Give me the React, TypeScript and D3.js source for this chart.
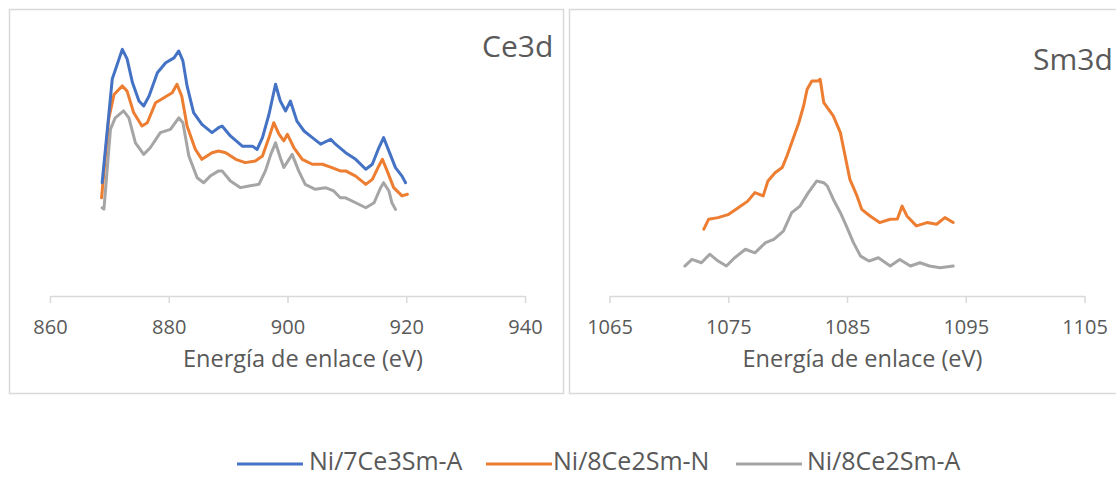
import React from "react";
import * as d3 from "d3";

// ---------- Data ----------
const seriesNames = ["Ni/7Ce3Sm-A", "Ni/8Ce2Sm-N", "Ni/8Ce2Sm-A"];
const seriesColors = ["#4472C4", "#ED7D31", "#A5A5A5"];

const ceTicks = [860, 880, 900, 920, 940];
const smTicks = [1065, 1075, 1085, 1095, 1105];

// Ce3d – Ni/7Ce3Sm-A
const ceAE = [868.7, 870.4, 872.1, 872.9, 873.8, 874.9, 875.7, 876.6, 878.0, 879.4, 880.8, 881.6, 882.3, 883.0, 884.1, 885.5, 887.2, 888.3, 888.9, 890.3, 892.3, 894.0, 894.8, 895.7, 896.8, 897.9, 898.7, 899.6, 900.4, 901.5, 902.7, 904.1, 905.5, 907.2, 908.0, 909.7, 911.4, 913.1, 914.2, 915.3, 916.1, 917.0, 918.1, 919.2, 919.8];
const ceAI = [41.2, 78.9, 89.7, 86.2, 77.6, 70.9, 69.1, 72.7, 81.2, 84.8, 86.6, 89.1, 85.5, 76.4, 66.7, 62.4, 59.4, 61.2, 61.8, 58.2, 54.5, 54.5, 53.3, 57.6, 66.1, 77.0, 70.9, 67.3, 70.9, 63.6, 60.0, 57.6, 55.2, 57.0, 55.2, 52.1, 49.7, 46.1, 47.9, 53.9, 57.6, 52.7, 46.7, 43.6, 41.2];

// Ce3d – Ni/8Ce2Sm-N
const ceNE = [868.6, 869.8, 870.7, 872.1, 872.9, 874.0, 875.4, 876.3, 877.7, 879.1, 880.5, 881.3, 882.1, 883.0, 884.4, 885.5, 887.2, 888.3, 889.5, 891.2, 892.8, 894.5, 895.7, 896.8, 897.6, 898.5, 899.3, 899.9, 901.0, 902.4, 904.1, 905.8, 907.4, 908.8, 909.7, 911.4, 913.1, 914.2, 915.3, 915.9, 916.7, 917.8, 919.2, 920.1];
const ceNI = [35.7, 64.4, 73.3, 76.4, 74.5, 66.7, 61.8, 63.0, 70.3, 72.1, 73.9, 77.0, 72.7, 61.8, 53.3, 49.7, 52.1, 52.7, 52.1, 49.7, 48.5, 49.1, 50.9, 57.6, 63.0, 58.8, 56.4, 58.8, 53.9, 49.7, 47.9, 47.9, 46.7, 45.5, 45.5, 43.6, 40.6, 42.4, 47.3, 49.7, 45.5, 39.4, 36.4, 37.0];

// Ce3d – Ni/8Ce2Sm-A
const ceGE = [868.7, 869.0, 870.1, 870.9, 872.3, 873.2, 874.3, 875.7, 876.8, 878.5, 880.2, 881.6, 882.3, 883.3, 884.7, 885.8, 886.9, 888.3, 888.9, 890.3, 892.0, 893.4, 895.1, 896.2, 897.1, 897.9, 898.7, 899.3, 900.7, 901.8, 902.9, 904.6, 906.3, 907.7, 908.8, 909.7, 911.4, 913.1, 914.5, 915.6, 916.1, 917.0, 917.5, 918.1];
const ceGI = [32.1, 31.6, 60.7, 64.8, 67.3, 64.8, 55.7, 51.5, 53.9, 59.4, 60.6, 64.8, 63.0, 50.9, 43.0, 41.2, 43.6, 45.5, 45.5, 41.8, 39.4, 40.0, 40.6, 45.5, 51.5, 55.7, 50.3, 46.7, 51.5, 45.5, 40.6, 38.8, 39.4, 38.2, 35.7, 35.7, 33.9, 32.1, 33.9, 39.4, 41.2, 38.2, 33.9, 31.5];

// Sm3d – Ni/8Ce2Sm-N
const smNE = [1072.9, 1073.3, 1074.1, 1075.0, 1075.8, 1076.6, 1077.2, 1077.9, 1078.3, 1078.9, 1079.5, 1079.9, 1080.3, 1080.9, 1081.3, 1081.6, 1082.0, 1082.5, 1082.7, 1083.0, 1083.8, 1084.4, 1084.8, 1085.2, 1085.8, 1086.2, 1086.9, 1087.7, 1088.6, 1089.2, 1089.6, 1090.0, 1090.8, 1091.7, 1092.5, 1093.2, 1093.9];
const smNI = [24.3, 27.9, 28.5, 29.7, 32.1, 34.5, 37.6, 36.4, 41.8, 44.8, 46.7, 50.9, 55.7, 63.0, 69.1, 75.2, 78.2, 78.2, 78.8, 70.3, 65.5, 59.4, 50.9, 42.4, 36.4, 31.5, 29.1, 26.7, 27.9, 28.0, 32.7, 29.1, 25.5, 26.7, 26.1, 28.5, 26.7];

// Sm3d – Ni/8Ce2Sm-A
const smGE = [1071.3, 1071.9, 1072.7, 1073.4, 1074.1, 1074.8, 1075.5, 1076.4, 1077.2, 1078.1, 1078.8, 1079.6, 1080.3, 1081.0, 1081.7, 1082.4, 1083.0, 1083.3, 1083.8, 1084.4, 1084.9, 1085.5, 1086.1, 1086.8, 1087.6, 1088.6, 1089.4, 1090.3, 1091.1, 1091.9, 1092.8, 1093.9];
const smGI = [10.9, 13.3, 12.1, 15.2, 12.7, 10.9, 13.9, 17.0, 15.7, 19.4, 20.6, 23.6, 30.3, 32.7, 37.6, 41.8, 41.2, 40.0, 35.2, 30.3, 25.5, 19.4, 14.5, 12.7, 13.9, 10.9, 13.3, 10.9, 12.1, 10.9, 10.3, 10.9];

const yDomain = [0, 100];

const TEXT = "#595959";
const GRID = "#D9D9D9";
const FONT = "'Open Sans', 'DejaVu Sans', sans-serif";

type Series = { e: number[]; i: number[]; color: string };

function Panel(props: {
  x0: number;
  x1: number;
  domain: [number, number];
  ticks: number[];
  series: Series[];
  title: string;
  titleX: number;
  titleY: number;
}) {
  const { x0, x1, domain, ticks, series, title, titleX, titleY } = props;
  const axisY = 296;
  const xs = d3.scaleLinear().domain(domain).range([x0, x1]);
  const ys = d3.scaleLinear().domain(yDomain).range([axisY, 21]);
  const line = d3
    .line<[number, number]>()
    .x((d) => xs(d[0]))
    .y((d) => ys(d[1]));
  return (
    <g>
      <line x1={x0} x2={x1} y1={axisY + 0.5} y2={axisY + 0.5} stroke={GRID} strokeWidth={1.5} />
      {ticks.map((t) => (
        <g key={t}>
          <line x1={xs(t)} x2={xs(t)} y1={axisY} y2={axisY + 7} stroke={GRID} strokeWidth={1.5} />
          <text x={xs(t)} y={329} textAnchor="middle" dominantBaseline="middle" fontSize={20} fill={TEXT} fontFamily={FONT}>
            {t}
          </text>
        </g>
      ))}
      <text x={(x0 + x1) / 2 + 15} y={361} textAnchor="middle" dominantBaseline="middle" fontSize={23.5} fill={TEXT} fontFamily={FONT}>
        Energía de enlace (eV)
      </text>
      <text x={titleX} y={titleY} dominantBaseline="middle" fontSize={30} fill={TEXT} fontFamily={FONT}>
        {title}
      </text>
      {series.map((s, k) => (
        <path
          key={k}
          d={line(s.e.map((e, j) => [e, s.i[j]] as [number, number])) || ""}
          fill="none"
          stroke={s.color}
          strokeWidth={3}
          strokeLinejoin="round"
          strokeLinecap="round"
        />
      ))}
    </g>
  );
}

export default function App() {
  const ceSeries: Series[] = [
    { e: ceGE, i: ceGI, color: seriesColors[2] },
    { e: ceNE, i: ceNI, color: seriesColors[1] },
    { e: ceAE, i: ceAI, color: seriesColors[0] },
  ];
  const smSeries: Series[] = [
    { e: smGE, i: smGI, color: seriesColors[2] },
    { e: smNE, i: smNI, color: seriesColors[1] },
  ];
  const legendItems = [
    { lx: 237, tx: 309 },
    { lx: 486, tx: 553 },
    { lx: 736, tx: 807 },
  ];
  return (
    <div style={{ position: "absolute", left: 0, top: 0 }}>
      <svg width={1116} height={477} style={{ display: "block", background: "#fff" }}>
        <rect x={9.5} y={9.5} width={554} height={384} fill="none" stroke={GRID} strokeWidth={1.5} />
        <rect x={569.5} y={9.5} width={560} height={384} fill="none" stroke={GRID} strokeWidth={1.5} />
        <Panel x0={50.5} x1={525.5} domain={[860, 940]} ticks={ceTicks} series={ceSeries} title="Ce3d" titleX={482} titleY={49} />
        <Panel x0={610} x1={1085} domain={[1065, 1105]} ticks={smTicks} series={smSeries} title="Sm3d" titleX={1033} titleY={62} />
        {seriesNames.map((n, k) => (
          <g key={n}>
            <line x1={legendItems[k].lx} x2={legendItems[k].lx + 66} y1={464} y2={464} stroke={seriesColors[k]} strokeWidth={3} />
            <text x={legendItems[k].tx} y={463} dominantBaseline="middle" fontSize={25} fill={TEXT} fontFamily={FONT}>
              {n}
            </text>
          </g>
        ))}
      </svg>
    </div>
  );
}
